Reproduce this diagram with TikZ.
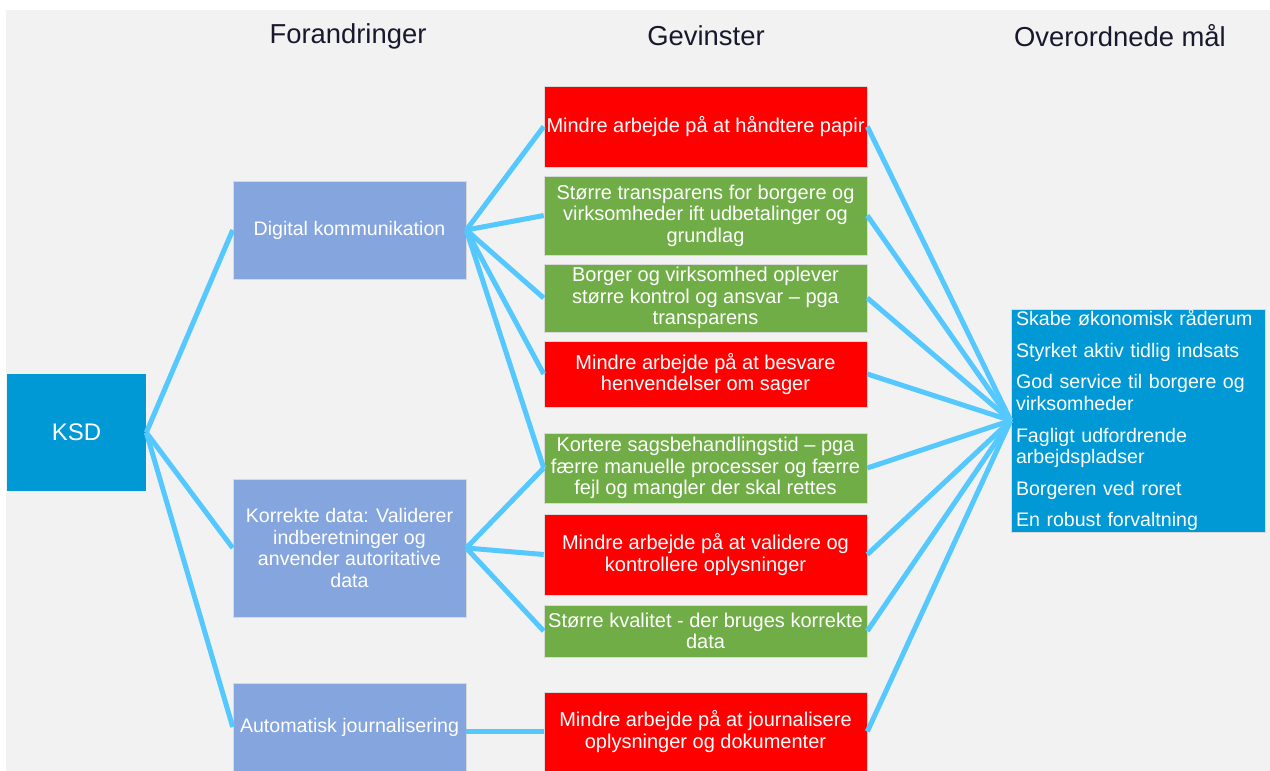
\documentclass[tikz,border=0pt]{standalone}
\usepackage{fontspec}
\setmainfont{Liberation Sans}
\usepackage{xcolor}
\usetikzlibrary{positioning}
\definecolor{ksdblue}{RGB}{0, 153, 214}
\definecolor{changeblue}{RGB}{133, 165, 222}
\definecolor{gainred}{RGB}{255, 0, 0}
\definecolor{gaingreen}{RGB}{112, 173, 71}
\definecolor{linkblue}{RGB}{85, 200, 255}
\definecolor{bggray}{RGB}{242, 242, 242}
\definecolor{headink}{RGB}{25, 25, 45}

\tikzset{
    box/.style={draw=white!70!gray, line width=0.3pt, inner sep=0pt, text=white, align=center,
        font=\fontsize{9.8}{10.7}\selectfont},
    change/.style={box, fill=changeblue, minimum width=116.5pt},
    gain/.style={box, minimum width=161.5pt, font=\fontsize{10}{10.7}\selectfont},
    link/.style={linkblue, line width=2.5pt},
    head/.style={font=\fontsize{13.7}{16}\selectfont, text=headink},
}

\begin{document}
\begin{tikzpicture}[x=0.5pt, y=-0.5pt]
\useasboundingbox (0,0) rectangle (1270,771);
\fill[white] (0,0) rectangle (1270,771);
\fill[bggray] (6,10) rectangle (1270,771);

% column titles
\node[head] (hchange) at (348,36) {Forandringer};
\node[head] (hgain) at (706,36) {Gevinster};
\node[head] (hgoal) at (1120,36) {Overordnede mål};

% KSD
\node[box, fill=ksdblue, draw=none, minimum width=69.5pt, minimum height=58.5pt,
    font=\fontsize{12}{14}\selectfont] (ksd) at (76.5,432.5) {KSD};

% Forandringer
\node[change, minimum height=49pt] (digital) at (349.5,230) {Digital kommunikation};
\node[change, minimum height=69pt] (korrekt) at (349.5,548)
    {Korrekte data: Validerer\\indberetninger og\\anvender autoritative\\data};
\node[change, minimum height=44pt] (auto) at (349.5,727) {Automatisk journalisering};

% Gevinster
\node[gain, fill=gainred, minimum height=40.5pt] (papir) at (705.5,126.5)
    {Mindre arbejde på at håndtere papir};
\node[gain, fill=gaingreen, minimum height=39.5pt] (transp) at (705.5,215.5)
    {Større transparens for borgere og\\virksomheder ift udbetalinger og\\grundlag};
\node[gain, fill=gaingreen, minimum height=34pt] (kontrol) at (705.5,298)
    {Borger og virksomhed oplever\\større kontrol og ansvar – pga\\transparens};
\node[gain, fill=gainred, minimum height=33pt] (henv) at (705.5,374)
    {Mindre arbejde på at besvare\\henvendelser om sager};
\node[gain, fill=gaingreen, minimum height=35pt] (sagsbeh) at (705.5,468)
    {Kortere sagsbehandlingstid – pga\\færre manuelle processer og færre\\fejl og mangler der skal rettes};
\node[gain, fill=gainred, minimum height=40.5pt] (valid) at (705.5,554.5)
    {Mindre arbejde på at validere og\\kontrollere oplysninger};
\node[gain, fill=gaingreen, minimum height=26pt] (kval) at (705.5,631)
    {Større kvalitet - der bruges korrekte\\data};
\node[gain, fill=gainred, minimum height=39.5pt] (journ) at (705.5,731.5)
    {Mindre arbejde på at journalisere\\oplysninger og dokumenter};

% Overordnede mål
\node[box, fill=ksdblue, align=left, text width=122pt, inner xsep=2.5pt,
    minimum height=111.5pt, font=\fontsize{9.8}{10.8}\selectfont] (goals) at (1138,420.5)
    {Skabe økonomisk råderum\\[5pt]
     Styrket aktiv tidlig indsats\\[5pt]
     God service til borgere og\\virksomheder\\[5pt]
     Fagligt udfordrende\\arbejdspladser\\[5pt]
     Borgeren ved roret\\[5pt]
     En robust forvaltning};

% KSD -> forandringer
\draw[link] (ksd.east) -- (digital.west);
\draw[link] (ksd.east) -- (korrekt.west);
\draw[link] (ksd.east) -- (auto.west);

% forandringer -> gevinster
\foreach \g in {papir, transp, kontrol, henv, sagsbeh}
    \draw[link] (digital.east) -- (\g.west);
\foreach \g in {sagsbeh, valid, kval}
    \draw[link] (korrekt.east) -- (\g.west);
\draw[link] (journ.west -| auto.east) -- (journ.west);

% gevinster -> mål
\foreach \g in {papir, transp, kontrol, henv, sagsbeh, valid, kval, journ}
    \draw[link] (\g.east) -- (goals.west);
\end{tikzpicture}
\end{document}
